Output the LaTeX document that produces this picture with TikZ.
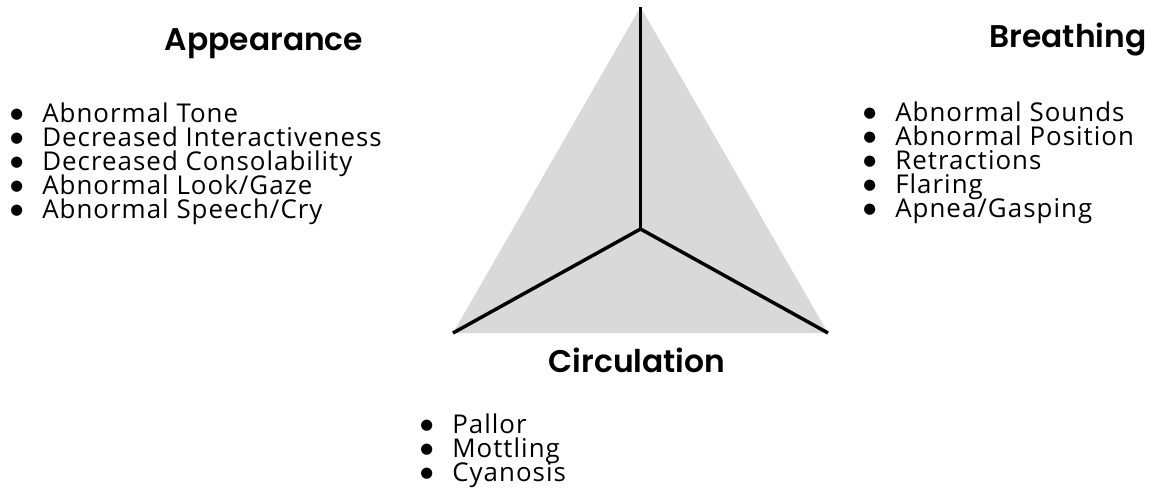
\documentclass[tikz,border=0pt]{standalone}
\usepackage{fontspec}
\setmainfont{Open Sans}[LetterSpace=4]
\newfontfamily\headfont{Poppins}[UprightFont=* SemiBold]
\newfontfamily\bulfont{DejaVu Sans}
\definecolor{trigrey}{HTML}{D9D9D9}
\AtBeginDocument{\lineskiplimit=-100pt\relax}
\begin{document}
\begin{tikzpicture}[x=0.75pt,y=-0.75pt,
  head/.style={font=\headfont\fontsize{23.5}{28}\selectfont, inner sep=0pt, anchor=base},
  itemlist/.style={font=\fontsize{19.4}{18}\selectfont, inner sep=0pt, anchor=north west, align=left},
  spoke/.style={line width=2.6pt, line cap=butt}]
\useasboundingbox (0,0) rectangle (1153,495);
% triangle
\coordinate (top) at (640.5,7);
\coordinate (bl) at (453,333);
\coordinate (br) at (828,333);
\coordinate (ctr) at (640.5,229);
\fill[trigrey] (top) -- (bl) -- (br) -- cycle;
\draw[spoke] (top) -- (ctr);
\draw[spoke] (ctr) -- (bl);
\draw[spoke] (ctr) -- (br);
% headings
\node[head] (happ) at (264,51) {Appearance};
\node[head] (hbr) at (1068,48) {Breathing};
\node[head] (hcir) at (637,373) {Circulation};
% bullet helper
\newcommand{\bul}[1]{\makebox[24pt][l]{\bulfont\fontsize{11}{11}\selectfont\raisebox{2.8pt}{●}}#1}
\newcommand{\firstline}{\rule{0pt}{20pt}}
% Appearance list (first baseline 122 px)
\node[itemlist] (alist) at (10,95.33) {\firstline\bul{Abnormal Tone}\\
  \bul{Decreased Interactiveness}\\
  \bul{Decreased Consolability}\\
  \bul{Abnormal Look/Gaze}\\
  \bul{Abnormal Speech/Cry}};
% Breathing list (first baseline 121 px)
\node[itemlist] (blist) at (863,94.33) {\firstline\bul{Abnormal Sounds}\\
  \bul{Abnormal Position}\\
  \bul{Retractions}\\
  \bul{Flaring}\\
  \bul{Apnea/Gasping}};
% Circulation list (first baseline 433 px)
\node[itemlist] (clist) at (420,406.33) {\firstline\bul{Pallor}\\
  \bul{Mottling}\\
  \bul{Cyanosis}};
\end{tikzpicture}
\end{document}
